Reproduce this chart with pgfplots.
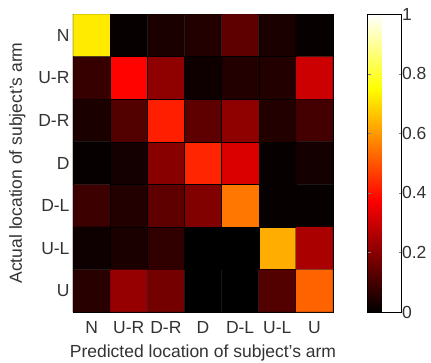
\documentclass[border=0pt]{standalone}
\usepackage{fontspec}
\setmainfont{Liberation Sans}
\usepackage{pgfplots}
\pgfplotsset{compat=1.18}
\pgfplotsset{/pgf/number format/assume math mode=true}
\begin{document}
\begin{tikzpicture}
\useasboundingbox (-73pt,-50pt) rectangle (358pt,312pt);
\begin{axis}[
  at={(0pt,0pt)}, anchor=south west,
  scale only axis, width=260pt, height=298pt,
  xmin=-0.5, xmax=6.5, ymin=-0.5, ymax=6.5, y dir=reverse,
  enlargelimits=false,
  xtick={0,...,6}, ytick={0,...,6},
  xticklabels={N,U-R,D-R,D,D-L,U-L,U},
  yticklabels={N,U-R,D-R,D,D-L,U-L,U},
  major tick length=0pt,
  tick label style={font=\fontsize{17.5}{19}\selectfont, text=black!80},
  xticklabel style={yshift=-6pt},
  label style={font=\fontsize{17.5}{19}\selectfont, text=black!80},
  xlabel={Predicted location of subject's arm},
  ylabel={Actual location of subject's arm},
  xlabel style={yshift=-4pt},
  ylabel style={yshift=6pt},
  colormap={mhot}{rgb(0pt)=(0,0,0); rgb(3pt)=(1,0,0); rgb(6pt)=(1,1,0); rgb(8pt)=(1,1,1)},
  point meta min=0, point meta max=1,
  colorbar,
  colorbar style={
    at={(parent axis.north east)}, anchor=north west,
    xshift=26pt,
    scale only axis,
    width=34pt,
    height=298pt,
    ytick={0,0.2,0.4,0.6,0.8,1},
    yticklabel pos=right,
    yticklabel style={font=\fontsize{17.5}{19}\selectfont, text=black!80, anchor=west, xshift=-3pt},
    major tick length=3pt,
    tick align=inside,
    /pgf/number format/assume math mode=true,
  },
]
\addplot[matrix plot*, mesh/cols=7, point meta=explicit, draw=black, line width=0.2pt] table[meta=c] {
x y c
0 0 0.72
1 0 0.01
2 0 0.04
3 0 0.05
4 0 0.14
5 0 0.04
6 0 0.01
0 1 0.08
1 1 0.38
2 1 0.21
3 1 0.02
4 1 0.05
5 1 0.05
6 1 0.30
0 2 0.04
1 2 0.12
2 2 0.42
3 2 0.14
4 2 0.21
5 2 0.05
6 2 0.10
0 3 0.01
1 3 0.03
2 3 0.20
3 3 0.43
4 3 0.32
5 3 0.01
6 3 0.03
0 4 0.09
1 4 0.05
2 4 0.14
3 4 0.19
4 4 0.55
5 4 0.01
6 4 0.01
0 5 0.02
1 5 0.04
2 5 0.07
3 5 0.00
4 5 0.00
5 5 0.63
6 5 0.25
0 6 0.06
1 6 0.22
2 6 0.17
3 6 0.00
4 6 0.00
5 6 0.12
6 6 0.52
};
\end{axis}
\end{tikzpicture}
\end{document}
